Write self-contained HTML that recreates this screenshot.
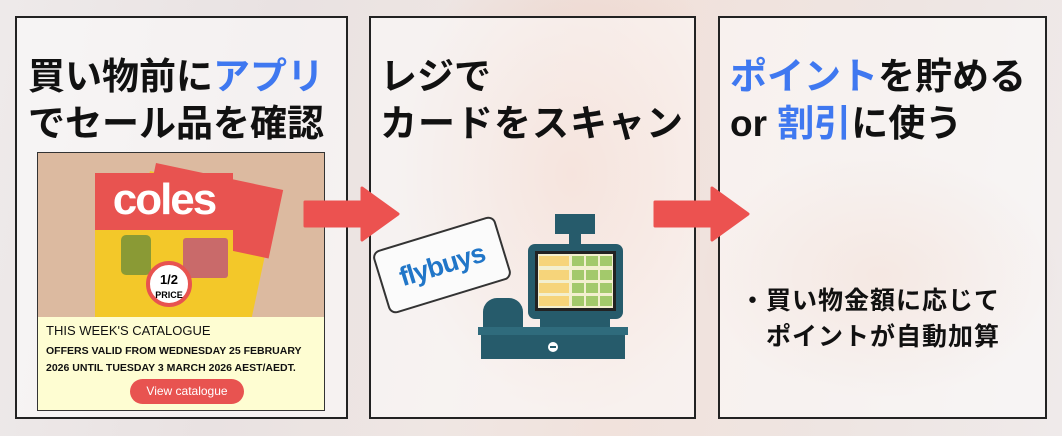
<!DOCTYPE html>
<html><head><meta charset="utf-8"><style>
*{margin:0;padding:0;box-sizing:border-box}
body{width:1062px;height:436px;overflow:hidden;position:relative;font-family:"Liberation Sans","Noto Sans CJK JP",sans-serif;
background:linear-gradient(100deg,#eeeaea 0%,#e9e2e2 25%,#efe6e3 45%,#f1e2dc 60%,#eee5e2 80%,#efeaea 100%);}
.bg1{position:absolute;left:380px;top:0;width:320px;height:436px;background:radial-gradient(ellipse at 60% 40%,rgba(230,150,120,.35),transparent 65%)}
.bg2{position:absolute;left:700px;top:150px;width:360px;height:250px;background:radial-gradient(ellipse at 50% 50%,rgba(225,160,130,.3),transparent 70%)}
.panel{position:absolute;top:16px;height:403px;border:2px solid #222;background:rgba(255,255,255,.5)}
.t{position:absolute;font-weight:bold;font-size:37px;color:#111;white-space:nowrap;letter-spacing:0px}
.b{color:#3f78f0}
.arrow{position:absolute}
</style></head><body>
<div class="bg1"></div><div class="bg2"></div>
<div class="panel" style="left:15px;width:333px"></div>
<div class="panel" style="left:369px;width:327px"></div>
<div class="panel" style="left:718px;width:329px"></div>

<div class="t" style="left:28px;top:46px">買い物前に<span class="b">アプリ</span></div>
<div class="t" style="left:28px;top:93px">でセール品を確認</div>
<div class="t" style="left:380px;top:46px">レジで</div>
<div class="t" style="left:380px;top:93px;letter-spacing:1px">カードをスキャン</div>
<div class="t" style="left:730px;top:46px"><span class="b">ポイント</span>を貯める</div>
<div class="t" style="left:730px;top:93px">or <span class="b">割引</span>に使う</div>

<!-- catalogue -->
<div style="position:absolute;left:37px;top:152px;width:288px;height:259px;background:#dcbaa0;border:1px solid #333;overflow:hidden">
  <div style="position:absolute;left:112px;top:18px;width:130px;height:170px;background:#f3c829;transform:rotate(12deg);transform-origin:left top"></div>
  <div style="position:absolute;left:118px;top:10px;width:130px;height:70px;background:#e85350;transform:rotate(12deg);transform-origin:left top"></div>
  <div style="position:absolute;left:57px;top:20px;width:138px;height:145px;background:#f3c829"></div>
  <div style="position:absolute;left:57px;top:20px;width:138px;height:57px;background:#e85350;color:#fff;font-weight:bold;font-size:44px;text-align:center;line-height:54px;letter-spacing:-2px">coles</div>
  <div style="position:absolute;left:83px;top:82px;width:30px;height:40px;background:#8a9a35;border-radius:5px"></div>
  <div style="position:absolute;left:145px;top:85px;width:45px;height:40px;background:#c96a6a;border-radius:3px"></div>
  <div style="position:absolute;left:108px;top:108px;width:46px;height:46px;border-radius:50%;background:#fff;border:4px solid #e85350;font-size:13px;font-weight:bold;text-align:center;line-height:14px;padding-top:8px">1/2<br><span style="font-size:9px">PRICE</span></div>
  <div style="position:absolute;left:0;top:164px;width:288px;height:95px;background:#fefdd2"></div>
  <div style="position:absolute;left:8px;top:170px;font-size:13px;color:#111">THIS WEEK'S CATALOGUE</div>
  <div style="position:absolute;left:8px;top:190px;font-size:10.5px;color:#111;line-height:17px;font-weight:bold">OFFERS VALID FROM WEDNESDAY 25 FEBRUARY<br>2026 UNTIL TUESDAY 3 MARCH 2026 AEST/AEDT.</div>
  <div style="position:absolute;left:92px;top:226px;width:114px;height:25px;border-radius:13px;background:#e85350;color:#fff;font-size:12px;text-align:center;line-height:25px">View catalogue</div>
</div>

<!-- arrows -->
<svg class="arrow" style="left:300px;top:184px" width="100" height="60"><polygon points="5,18 62,18 62,4 98,30 62,56 62,42 5,42" fill="#ec5250" stroke="#ec5250" stroke-width="3" stroke-linejoin="round"/></svg>
<svg class="arrow" style="left:652px;top:184px" width="100" height="60"><polygon points="3,18 60,18 60,4 96,30 60,56 60,42 3,42" fill="#ec5250" stroke="#ec5250" stroke-width="3" stroke-linejoin="round"/></svg>

<!-- flybuys card -->
<div style="position:absolute;left:378px;top:232px;width:128px;height:66px;background:#fbfbfb;border:2px solid #333;border-radius:8px;transform:rotate(-17deg);color:#2176c8;font-size:27px;font-weight:bold;text-align:center;line-height:62px;letter-spacing:-1px">flybuys</div>

<!-- register -->
<svg style="position:absolute;left:478px;top:210px" width="160" height="150">
<rect x="77" y="4" width="40" height="20" fill="#265b6b"/><rect x="91" y="22" width="12" height="12" fill="#265b6b"/>
<rect x="50" y="34" width="95" height="75" rx="7" fill="#265b6b"/>
<rect x="57" y="41" width="81" height="60" fill="#222"/>
<rect x="60" y="44" width="75" height="54" fill="#f3efcf"/>
<g fill="#f6d47a"><rect x="61" y="46" width="30" height="10"/><rect x="61" y="60" width="30" height="10"/><rect x="61" y="73" width="30" height="10"/><rect x="61" y="86" width="30" height="10"/></g>
<g fill="#a3c96b"><rect x="94" y="46" width="12" height="10"/><rect x="108" y="46" width="12" height="10"/><rect x="122" y="46" width="12" height="10"/><rect x="94" y="60" width="12" height="10"/><rect x="108" y="60" width="12" height="10"/><rect x="122" y="60" width="12" height="10"/><rect x="94" y="73" width="12" height="10"/><rect x="108" y="73" width="12" height="10"/><rect x="122" y="73" width="12" height="10"/><rect x="94" y="86" width="12" height="10"/><rect x="108" y="86" width="12" height="10"/><rect x="122" y="86" width="12" height="10"/></g>
<rect x="62" y="108" width="70" height="10" fill="#265b6b"/>
<path d="M5,120 v-18 a14 14 0 0 1 14 -14 h12 a14 14 0 0 1 14 14 v18z" fill="#265b6b"/>
<rect x="0" y="117" width="150" height="8" fill="#2f6b7c"/>
<rect x="3" y="125" width="144" height="24" fill="#265b6b"/>
<circle cx="75" cy="137" r="5" fill="#fff"/><rect x="72" y="136" width="6" height="2" fill="#265b6b"/>
</svg>

<div style="position:absolute;left:740px;top:283px;font-size:25px;font-weight:bold;color:#111;line-height:36px;white-space:nowrap;letter-spacing:1px">・買い物金額に応じて<br><span style="padding-left:26px">ポイントが自動加算</span></div>
</body></html>
